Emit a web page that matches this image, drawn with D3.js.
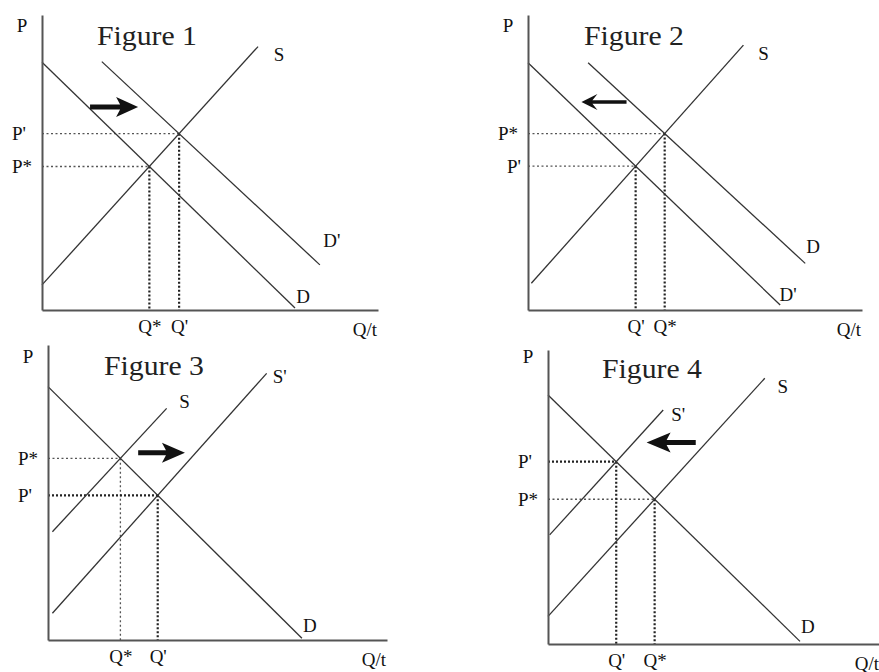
<!DOCTYPE html>
<html><head><meta charset="utf-8">
<script src="https://cdn.jsdelivr.net/npm/d3@7"></script>
<style>body{margin:0;background:#fff}svg{display:block}</style>
</head><body>
<svg id="chart" width="879" height="672"></svg>
<script>
// ---------------- DATA (axis units: 0-100 along each axis) ----------------
const figureTitles = ["Figure 1", "Figure 2", "Figure 3", "Figure 4"];
const axisLabels = ["P", "Q/t"];
// curves: [label, q0, p0, q1, p1]
const fig1Curves = [["D", 0, 84, 75.3, 0.7], ["D'", 17.8, 84.2, 82.7, 15.3], ["S", 0, 8.5, 64.3, 89.3]];
const fig2Curves = [["D'", 0, 83.8, 75.5, 1.7], ["D", 18, 83.8, 83, 15.8], ["S", 1, 9.05, 64.5, 89.8]];
const fig3Curves = [["D", 0, 85.9, 74.9, 0.6], ["S", 1.3, 36.7, 35, 78.5], ["S'", 1.3, 9.05, 64.5, 90.4]];
const fig4Curves = [["D", 0, 84.7, 75.9, 0.9], ["S'", 0.5, 37.1, 34.7, 79.6], ["S", 0, 9.4, 65.3, 90.4]];
// equilibria: [price label, quantity label, demand curve, supply curve]
const fig1Equilibria = [["P*", "Q*", "D", "S"], ["P'", "Q'", "D'", "S"]];
const fig2Equilibria = [["P*", "Q*", "D", "S"], ["P'", "Q'", "D'", "S"]];
const fig3Equilibria = [["P*", "Q*", "D", "S"], ["P'", "Q'", "D", "S'"]];
const fig4Equilibria = [["P*", "Q*", "D", "S"], ["P'", "Q'", "D", "S'"]];
// shift arrows: [q from, q to, p]
const fig1Arrow = [14.3, 28.6, 68.8];
const fig2Arrow = [29.5, 16, 70.5];
const fig3Arrow = [26.6, 40.4, 63.5];
const fig4Arrow = [44.5, 29.7, 68.5];

// ---------------- LAYOUT & STYLE ----------------
const panels = [
  {curves: fig1Curves, eq: fig1Equilibria, arrow: fig1Arrow, ox: 42, oy: 310, w: 336, h: 295,
   titleDx: 105, titleDy: 30, pDy: 10,
   labelOff: {"D": [8, -11], "D'": [12, -24], "S": [21, 8]},
   bold: {h: [false, false], v: [true, true]},
   arrowStyle: {sw: 5, hl: 22, hh: 10, notch: 4}},
  {curves: fig2Curves, eq: fig2Equilibria, arrow: fig2Arrow, ox: 528, oy: 310, w: 334, h: 295,
   titleDx: 106, titleDy: 30, pDy: 10,
   labelOff: {"D": [8, -17], "D'": [8, -10], "S": [20, 8]},
   bold: {h: [false, false], v: [true, true]}, pIndent: {"P'": 9},
   arrowStyle: {sw: 3.5, hl: 16, hh: 8, notch: 5}},
  {curves: fig3Curves, eq: fig3Equilibria, arrow: fig3Arrow, ox: 48, oy: 640, w: 339, h: 295,
   titleDx: 106, titleDy: 30, pDy: 11,
   labelOff: {"D": [8, -13], "S": [18, -7], "S'": [13, 3]},
   bold: {h: [false, true], v: [false, true]},
   arrowStyle: {sw: 5, hl: 23, hh: 10, notch: 4}},
  {curves: fig4Curves, eq: fig4Equilibria, arrow: fig4Arrow, ox: 548, oy: 644, w: 332, h: 294,
   titleDx: 104, titleDy: 28, pDy: 6,
   labelOff: {"D": [8, -15], "S": [18, 8], "S'": [15, 5]},
   bold: {h: [false, true], v: [true, true]},
   arrowStyle: {sw: 5, hl: 24, hh: 10, notch: 4}}
];
const FONT = "'Liberation Serif','Times New Roman',serif";
const INK = "#111";
const LABEL_SIZE = 19;

const svg = d3.select("#chart");

function intersect(a, b) {
  const m1 = (a[4] - a[2]) / (a[3] - a[1]), c1 = a[2] - m1 * a[1];
  const m2 = (b[4] - b[2]) / (b[3] - b[1]), c2 = b[2] - m2 * b[1];
  const q = (c2 - c1) / (m1 - m2);
  return [q, m1 * q + c1];
}
function arrowPath(x0, x1, y, s) {
  const dir = Math.sign(x1 - x0);
  const bx = x1 - dir * s.hl;
  const nx = bx + dir * s.notch;
  return `M${x0},${y - s.sw / 2}L${nx},${y - s.sw / 2}L${bx},${y - s.hh}L${x1},${y}L${bx},${y + s.hh}L${nx},${y + s.sw / 2}L${x0},${y + s.sw / 2}Z`;
}

panels.forEach((pn, i) => {
  const x = d3.scaleLinear().domain([0, 100]).range([pn.ox, pn.ox + pn.w]);
  const y = d3.scaleLinear().domain([0, 100]).range([pn.oy, pn.oy - pn.h]);
  const g = svg.append("g");
  const byName = Object.fromEntries(pn.curves.map(c => [c[0], c]));
  const eqPts = pn.eq.map(e => ({pl: e[0], ql: e[1], pt: intersect(byName[e[2]], byName[e[3]])}));

  // guides
  eqPts.forEach((e, k) => {
    const hb = pn.bold.h[k], vb = pn.bold.v[k];
    g.append("line").attr("x1", x(0)).attr("x2", x(e.pt[0]))
      .attr("y1", y(e.pt[1])).attr("y2", y(e.pt[1]))
      .attr("stroke", hb ? "#222" : "#555").attr("stroke-width", hb ? 2.2 : 1.3)
      .attr("stroke-dasharray", hb ? "2,2" : "2,2.5");
    g.append("line").attr("x1", x(e.pt[0])).attr("x2", x(e.pt[0]))
      .attr("y1", y(e.pt[1])).attr("y2", y(0))
      .attr("stroke", vb ? "#222" : "#555").attr("stroke-width", vb ? 2.2 : 1.3)
      .attr("stroke-dasharray", vb ? "2,2" : "2,2.5");
  });

  // curves
  g.selectAll("line.curve").data(pn.curves).join("line").attr("class", "curve")
    .attr("x1", d => x(d[1])).attr("y1", d => y(d[2]))
    .attr("x2", d => x(d[3])).attr("y2", d => y(d[4]))
    .attr("stroke", "#333").attr("stroke-width", 1.3);
  g.selectAll("text.clabel").data(pn.curves).join("text").attr("class", "clabel")
    .attr("x", d => x(d[3]) + pn.labelOff[d[0]][0])
    .attr("y", d => y(d[4]) + pn.labelOff[d[0]][1])
    .attr("text-anchor", "middle").attr("dominant-baseline", "central")
    .attr("font-family", FONT).attr("font-size", LABEL_SIZE).attr("fill", INK)
    .text(d => d[0]);

  // axes
  const xAxis = d3.axisBottom(x).tickValues(eqPts.map(e => e.pt[0]))
    .tickFormat((d, k) => eqPts[k].ql).tickSize(0).tickSizeOuter(0).tickPadding(10);
  const yAxis = d3.axisLeft(y).tickValues(eqPts.map(e => e.pt[1]))
    .tickFormat((d, k) => eqPts[k].pl).tickSize(0).tickSizeOuter(0).tickPadding(8);
  const gx = g.append("g").attr("transform", `translate(0,${pn.oy})`).call(xAxis);
  const gy = g.append("g").attr("transform", `translate(${pn.ox},0)`).call(yAxis);
  [gx, gy].forEach(a => {
    a.select(".domain").attr("stroke", "#555").attr("stroke-width", 2);
    a.selectAll("text").attr("font-family", FONT).attr("font-size", LABEL_SIZE).attr("fill", INK);
  });
  gx.selectAll("text").attr("dy", "0.71em");
  gy.selectAll("text").attr("text-anchor", "start")
    .attr("x", (d, k) => -30 + ((pn.pIndent || {})[eqPts[k].pl] || 0));

  // axis titles
  g.append("text").attr("x", pn.ox - 20).attr("y", pn.oy - pn.h + pn.pDy)
    .attr("text-anchor", "middle").attr("dominant-baseline", "central")
    .attr("font-family", FONT).attr("font-size", LABEL_SIZE).attr("fill", INK).text(axisLabels[0]);
  g.append("text").attr("x", pn.ox + pn.w - 13).attr("y", pn.oy + 19)
    .attr("text-anchor", "middle").attr("dominant-baseline", "central")
    .attr("font-family", FONT).attr("font-size", LABEL_SIZE).attr("fill", INK).text(axisLabels[1]);

  // figure title
  g.append("text").attr("x", pn.ox + pn.titleDx - 50).attr("y", pn.oy - pn.h + pn.titleDy)
    .attr("textLength", 100).attr("lengthAdjust", "spacingAndGlyphs")
    .attr("font-family", FONT).attr("font-size", 28)
    .attr("fill", "#222").text(figureTitles[i]);

  // shift arrow
  g.append("path").attr("d", arrowPath(x(pn.arrow[0]), x(pn.arrow[1]), y(pn.arrow[2]), pn.arrowStyle))
    .attr("fill", "#111");
});
</script>
</body></html>
